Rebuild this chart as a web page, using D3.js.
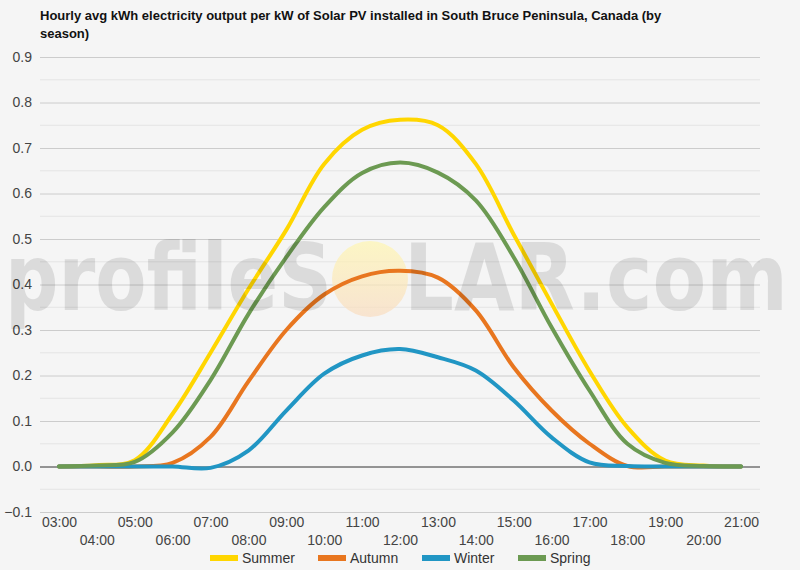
<!DOCTYPE html>
<html>
<head>
<meta charset="utf-8">
<script src="https://cdn.jsdelivr.net/npm/d3@7"></script>
<style>
  body { margin: 0; background: #f5f5f5; }
  svg { font-family: "Liberation Sans", Arial, sans-serif; display: block; }
</style>
</head>
<body>
<svg id="chart" width="800" height="570"></svg>
<script>
const hours = ["03:00","04:00","05:00","06:00","07:00","08:00","09:00","10:00","11:00","12:00",
               "13:00","14:00","15:00","16:00","17:00","18:00","19:00","20:00","21:00"];

const summer = [0, 0.003, 0.014, 0.116, 0.25, 0.39, 0.52, 0.665, 0.74, 0.762, 0.75, 0.665, 0.51, 0.358, 0.21, 0.086, 0.013, 0.002, 0];
const autumn = [0, 0, 0, 0.008, 0.065, 0.187, 0.30, 0.378, 0.418, 0.43, 0.415, 0.343, 0.218, 0.123, 0.05, 0.001, 0, 0, 0];
const winter = [0, 0, 0, 0, -0.003, 0.035, 0.123, 0.204, 0.244, 0.258, 0.24, 0.211, 0.145, 0.064, 0.009, 0.001, 0, 0, 0];
const spring = [0, 0.002, 0.01, 0.075, 0.19, 0.335, 0.46, 0.57, 0.645, 0.668, 0.646, 0.585, 0.46, 0.306, 0.167, 0.05, 0.008, 0.001, 0];

const seriesNames = ["Summer", "Autumn", "Winter", "Spring"];
const seriesValues = [summer, autumn, winter, spring];
const seriesColors = ["#ffd600", "#e8761f", "#2196c4", "#6c9a52"];

const yTicks = [-0.1, 0, 0.1, 0.2, 0.3, 0.4, 0.5, 0.6, 0.7, 0.8, 0.9];

const svg = d3.select("#chart");
const margin = {top: 57, right: 40, bottom: 58, left: 40};
const width = +svg.attr("width");
const height = +svg.attr("height");
const innerWidth = width - margin.left - margin.right;
const innerHeight = height - margin.top - margin.bottom;

svg.append("rect").attr("width", width).attr("height", height).attr("fill", "#f5f5f5");

// Title
const title = svg.append("text")
    .attr("x", 40).attr("y", 20)
    .attr("font-size", 13).attr("font-weight", "bold").attr("fill", "#111");
title.append("tspan").attr("x", 40).attr("dy", 0)
    .text("Hourly avg kWh electricity output per kW of Solar PV installed in South Bruce Peninsula, Canada (by");
title.append("tspan").attr("x", 40).attr("dy", 18).text("season)");

const chart = svg.append("g")
    .attr("transform", "translate(" + margin.left + "," + margin.top + ")");

const x = d3.scalePoint().domain(hours).range([0, innerWidth]).padding(0.5);
const y = d3.scaleLinear().domain([-0.1, 0.9]).range([innerHeight, 0]);

// Minor gridlines
const minor = d3.range(-0.05, 0.9, 0.1);
chart.append("g").selectAll("line").data(minor).enter().append("line")
    .attr("x1", 0).attr("x2", innerWidth)
    .attr("y1", d => y(d)).attr("y2", d => y(d))
    .attr("stroke", "#e4e4e4").attr("stroke-width", 1);

// Major gridlines
chart.append("g")
    .call(d3.axisLeft(y).tickValues(yTicks).tickSize(-innerWidth).tickFormat(d3.format(".1f")))
    .call(g => g.select(".domain").remove())
    .call(g => g.selectAll(".tick line").attr("stroke", d => d === 0 ? "#333" : "#cccccc"))
    .call(g => g.selectAll(".tick text")
        .attr("x", -8).attr("font-size", 14).attr("fill", "#444")
        .attr("font-family", "Liberation Sans, Arial, sans-serif"));

// X axis labels in two staggered rows
chart.append("g")
    .attr("transform", "translate(0," + innerHeight + ")")
    .call(d3.axisBottom(x).tickSize(0))
    .call(g => g.select(".domain").remove())
    .call(g => g.selectAll(".tick text")
        .attr("y", (d, i) => i % 2 === 0 ? 11 : 29)
        .attr("dy", "0.32em")
        .attr("font-size", 14).attr("fill", "#444")
        .attr("font-family", "Liberation Sans, Arial, sans-serif"));

// Watermark sun sits behind the lines
const defs = svg.append("defs");
const grad = defs.append("linearGradient").attr("id", "sun").attr("x1", 0).attr("y1", 0).attr("x2", 0).attr("y2", 1);
grad.append("stop").attr("offset", "0%").attr("stop-color", "#fff6b0");
grad.append("stop").attr("offset", "100%").attr("stop-color", "#f9dcc0");
svg.append("circle").attr("cx", 370).attr("cy", 279).attr("r", 38)
    .attr("fill", "url(#sun)").attr("opacity", 0.7);

// Lines
const line = d3.line()
    .x((d, i) => x(hours[i]))
    .y(d => y(d))
    .curve(d3.curveCatmullRom.alpha(0.5));

svg.append("g")
    .attr("transform", "translate(" + margin.left + "," + margin.top + ")")
    .selectAll("path").data(seriesValues).enter().append("path")
    .attr("d", line)
    .attr("fill", "none")
    .attr("stroke", (d, i) => seriesColors[i])
    .attr("stroke-width", 4)
    .attr("stroke-linecap", "round")
    .attr("stroke-linejoin", "round");

// Watermark text
const mark = svg.append("g").attr("pointer-events", "none")
    .attr("font-family", "DejaVu Sans, sans-serif").attr("font-weight", "bold")
    .attr("font-size", 92).attr("fill", "#000").attr("opacity", 0.1);
mark.append("text").attr("x", 5).attr("y", 310)
    .attr("textLength", 327).attr("lengthAdjust", "spacingAndGlyphs")
    .text("profileS");
mark.append("text").attr("x", 404).attr("y", 310)
    .attr("textLength", 384).attr("lengthAdjust", "spacingAndGlyphs")
    .text("LAR.com");

// Legend
const legendX = [210, 318, 422, 518];
const legend = svg.append("g").attr("transform", "translate(0,558)");
const item = legend.selectAll("g").data(seriesNames).enter().append("g")
    .attr("transform", (d, i) => "translate(" + legendX[i] + ",0)");
item.append("rect").attr("x", 0).attr("y", -3).attr("width", 28).attr("height", 6)
    .attr("fill", (d, i) => seriesColors[i]);
item.append("text").attr("x", 32).attr("dy", "0.35em")
    .attr("font-size", 14).attr("fill", "#333").text(d => d);
</script>
</body>
</html>
